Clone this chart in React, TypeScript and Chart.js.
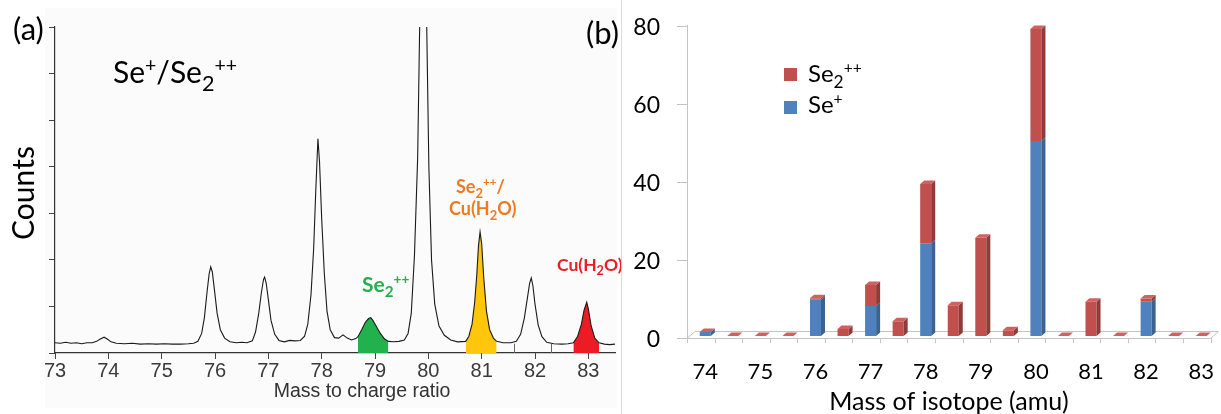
import React, { useEffect, useRef } from "react";
import { Chart, registerables } from "chart.js";
Chart.register(...registerables);

// ---------- Panel (a): mass spectrum ----------
const massToCharge = [
  73.0, 73.1, 73.2, 73.3, 73.4, 73.5, 73.6, 73.7, 73.78, 73.85, 73.92, 73.98, 74.05, 74.15, 74.3, 74.45, 74.6, 74.75, 74.9,
  75.05, 75.2, 75.35, 75.5, 75.6, 75.68, 75.75, 75.8, 75.85, 75.89, 75.92, 75.95, 75.99, 76.04, 76.1, 76.18, 76.28, 76.4,
  76.5, 76.6, 76.7, 76.76, 76.82, 76.87, 76.91, 76.93, 76.96, 77.0, 77.05, 77.12, 77.2, 77.3, 77.4, 77.5, 77.6, 77.68,
  77.74, 77.8, 77.85, 77.89, 77.93, 77.96, 78.0, 78.05, 78.1, 78.16, 78.24, 78.32, 78.4, 78.48, 78.56, 78.64, 78.68, 78.75,
  78.82, 78.88, 78.92, 78.96, 79.02, 79.1, 79.18, 79.25, 79.35, 79.45, 79.55, 79.62, 79.68, 79.74, 79.8, 79.84, 79.9,
  79.95, 79.97, 80.01, 80.06, 80.12, 80.2, 80.3, 80.42, 80.55, 80.7, 80.76, 80.82, 80.87, 80.91, 80.94, 80.97, 81.0,
  81.04, 81.09, 81.15, 81.22, 81.28, 81.4, 81.55, 81.65, 81.73, 81.8, 81.86, 81.9, 81.93, 81.96, 82.0, 82.06, 82.13,
  82.22, 82.35, 82.5, 82.62, 82.72, 82.8, 82.87, 82.92, 82.97, 83.0, 83.05, 83.12, 83.2, 83.3, 83.4, 83.5,
];
const counts = [
  0.22, 0.21, 0.23, 0.21, 0.22, 0.2, 0.22, 0.22, 0.25, 0.3, 0.34, 0.3, 0.24, 0.21, 0.2, 0.21, 0.19, 0.2, 0.19,
  0.2, 0.19, 0.19, 0.2, 0.21, 0.25, 0.42, 0.75, 1.3, 1.7, 1.85, 1.74, 1.35, 0.85, 0.5, 0.32, 0.24, 0.22,
  0.23, 0.22, 0.26, 0.45, 0.85, 1.3, 1.58, 1.63, 1.5, 1.15, 0.7, 0.4, 0.27, 0.24, 0.27, 0.26, 0.27, 0.36,
  0.62, 1.25, 2.25, 3.5, 4.6, 4.1, 2.9, 1.7, 0.9, 0.5, 0.33, 0.32, 0.39, 0.32, 0.28, 0.31, 0.35, 0.5,
  0.66, 0.74, 0.76, 0.7, 0.58, 0.42, 0.3, 0.25, 0.24, 0.25, 0.28, 0.42, 0.85, 2.1, 4.2, 7.2, 10.0,
  8.5, 7.0, 4.0, 2.0, 1.05, 0.58, 0.38, 0.28, 0.24, 0.25, 0.36, 0.62, 1.1, 1.7, 2.3, 2.6, 2.35,
  1.6, 0.9, 0.5, 0.32, 0.25, 0.22, 0.22, 0.25, 0.4, 0.75, 1.2, 1.5, 1.61, 1.45, 1.05, 0.6, 0.35,
  0.23, 0.2, 0.19, 0.2, 0.22, 0.36, 0.62, 0.92, 1.09, 0.95, 0.6, 0.32, 0.22, 0.19, 0.18, 0.19,
];
const massTicks = [73, 74, 75, 76, 77, 78, 79, 80, 81, 82, 83];
const greenRange = [78.68, 79.25];
const yellowRange = [80.7, 81.28];
const redRange = [82.72, 83.2];
const markerMasses = [81.6, 82.3];

// ---------- Panel (b): isotope bars ----------
const isotopeLabels = ["74", "", "75", "", "76", "", "77", "", "78", "", "79", "", "80", "", "81", "", "82", "", "83"];
const seIon = [1, 0, 0, 0, 9.3, 0, 7.7, 0, 23.8, 0, 0, 0, 50, 0, 0, 0, 8.8, 0, 0];
const se2Ion = [0, 0, 0, 0, 0.4, 1.8, 5.4, 3.8, 15.2, 7.9, 25.2, 1.5, 28.7, 0, 8.8, 0, 0.8, 0, 0];
const countTicks = [0, 20, 40, 60, 80];

type Run = { t: string; k?: "sup" | "sub" };

function drawRich(
  ctx: CanvasRenderingContext2D,
  runs: Run[],
  x: number,
  y: number,
  size: number,
  color: string,
  weight = "normal",
  family = "Lato",
  align: "left" | "center" = "left"
) {
  const fontFor = (k?: string) => `${weight} ${k === "sup" ? size * 0.65 : k === "sub" ? size * 0.72 : size}px ${family}`;
  let w = 0;
  for (const r of runs) {
    ctx.font = fontFor(r.k);
    w += ctx.measureText(r.t).width;
  }
  let cx = align === "center" ? x - w / 2 : x;
  ctx.fillStyle = color;
  ctx.textBaseline = "alphabetic";
  ctx.textAlign = "left";
  for (const r of runs) {
    ctx.font = fontFor(r.k);
    const dy = r.k === "sup" ? -size * 0.38 : r.k === "sub" ? size * 0.25 : 0;
    ctx.fillText(r.t, cx, y + dy);
    cx += ctx.measureText(r.t).width;
  }
}

const se2Runs: Run[] = [{ t: "Se" }, { t: "2", k: "sub" }, { t: "++", k: "sup" }];
const cuRuns: Run[] = [{ t: "Cu(H" }, { t: "2", k: "sub" }, { t: "O)" }];

const spectrumTextPlugin = {
  id: "spectrumText",
  beforeDraw(chart: any) {
    const ctx = chart.ctx as CanvasRenderingContext2D;
    ctx.save();
    ctx.fillStyle = "#fbfbfb";
    ctx.fillRect(45, 8, 572, 400);
    ctx.restore();
  },
  afterDatasetsDraw(chart: any) {
    const ctx = chart.ctx as CanvasRenderingContext2D;
    const { x, y } = chart.scales;
    ctx.save();
    ctx.strokeStyle = "#666";
    ctx.lineWidth = 1;
    for (const m of markerMasses) {
      const px = Math.round(x.getPixelForValue(m)) + 0.5;
      ctx.beginPath();
      ctx.moveTo(px, y.getPixelForValue(0));
      ctx.lineTo(px, y.getPixelForValue(0.2));
      ctx.stroke();
    }
    ctx.restore();
  },
  afterDraw(chart: any) {
    const ctx = chart.ctx as CanvasRenderingContext2D;
    ctx.save();
    // panel letters
    drawRich(ctx, [{ t: "(a)" }], 13, 40, 31, "#000");
    drawRich(ctx, [{ t: "(b)" }], 586, 44, 31, "#000");
    // title
    drawRich(ctx, [{ t: "Se" }, { t: "+", k: "sup" }, { t: "/Se" }, { t: "2", k: "sub" }, { t: "++", k: "sup" }], 113, 83, 30, "#000");
    // peak labels
    drawRich(ctx, se2Runs, 362, 292, 21, "#22b14c", "bold");
    drawRich(ctx, [...se2Runs, { t: "/" }], 456, 193, 18, "#ee7b22", "bold");
    drawRich(ctx, cuRuns, 449, 215, 18, "#ee7b22", "bold");
    drawRich(ctx, cuRuns, 557, 271, 17.5, "#ee1c24", "bold");
    // axis title
    ctx.font = "19.5px 'Liberation Sans'";
    ctx.fillStyle = "#333";
    ctx.textAlign = "center";
    ctx.textBaseline = "alphabetic";
    ctx.fillText("Mass to charge ratio", 362, 397);
    // Counts
    ctx.translate(24, 193);
    ctx.rotate(-Math.PI / 2);
    ctx.font = "30px Lato";
    ctx.fillStyle = "#000";
    ctx.textAlign = "center";
    ctx.textBaseline = "middle";
    ctx.fillText("Counts", 0, 0);
    ctx.restore();
  },
};

const DX = 4;
const DY = 3.5;

const bar3dPlugin = {
  id: "bar3d",
  beforeDatasetsDraw(chart: any) {
    const ctx = chart.ctx as CanvasRenderingContext2D;
    const { x, y } = chart.scales;
    const a = chart.chartArea;
    const n = isotopeLabels.length;
    const cw = (a.right - a.left) / n;
    const fl = a.left - 4.5;
    const fr = a.right - 4.5;
    const fy = y.getPixelForValue(0) + 2;
    ctx.save();
    ctx.strokeStyle = "#c4c4c4";
    ctx.lineWidth = 1;
    // y axis line
    ctx.beginPath();
    ctx.moveTo(Math.round(fl) + 0.5, y.getPixelForValue(80) + 1);
    ctx.lineTo(Math.round(fl) + 0.5, fy);
    ctx.stroke();
    // y ticks
    for (const v of countTicks) {
      const py = Math.round(y.getPixelForValue(v) + 2) + 0.5;
      ctx.beginPath();
      ctx.moveTo(fl - 10, py);
      ctx.lineTo(fl, py);
      ctx.stroke();
    }
    // floor
    ctx.beginPath();
    ctx.moveTo(fl, fy + 0.5);
    ctx.lineTo(fr, fy + 0.5);
    ctx.lineTo(fr + 8, fy - 6.5);
    ctx.lineTo(fl + 8, fy - 6.5);
    ctx.closePath();
    ctx.stroke();
    // category boundary ticks
    for (let k = 0; k <= n; k++) {
      const px = Math.round(x.getPixelForValue(0) - cw / 2 - 4.5 + k * cw) + 0.5;
      ctx.beginPath();
      ctx.moveTo(px, fy);
      ctx.lineTo(px, fy + 5);
      ctx.stroke();
    }
    ctx.restore();
  },
  afterDatasetsDraw(chart: any) {
    const ctx = chart.ctx as CanvasRenderingContext2D;
    const blue = chart.getDatasetMeta(0).data;
    const red = chart.getDatasetMeta(1).data;
    ctx.save();
    const side = (el: any, color: string) => {
      const h = el.base - el.y;
      if (h < 0.5) return;
      const r = el.x + el.width / 2;
      ctx.fillStyle = color;
      ctx.beginPath();
      ctx.moveTo(r, el.y);
      ctx.lineTo(r + DX, el.y - DY);
      ctx.lineTo(r + DX, el.base - DY);
      ctx.lineTo(r, el.base);
      ctx.closePath();
      ctx.fill();
    };
    for (let i = 0; i < blue.length; i++) {
      side(blue[i], "#3a6391");
      side(red[i], "#8e3b39");
      const t = red[i];
      const l = t.x - t.width / 2;
      const r = t.x + t.width / 2;
      ctx.fillStyle = "#cd625f";
      ctx.beginPath();
      ctx.moveTo(l, t.y);
      ctx.lineTo(l + DX, t.y - DY);
      ctx.lineTo(r + DX, t.y - DY);
      ctx.lineTo(r, t.y);
      ctx.closePath();
      ctx.fill();
    }
    // legend
    ctx.fillStyle = "#c0504d";
    ctx.fillRect(163, 68, 13, 13);
    ctx.fillStyle = "#4f81bd";
    ctx.fillRect(163, 101, 13, 13);
    drawRich(ctx, se2Runs, 187, 82, 24, "#000");
    drawRich(ctx, [{ t: "Se" }, { t: "+", k: "sup" }], 187, 113, 24, "#000");
    // axis title
    ctx.font = "25px Lato";
    ctx.fillStyle = "#000";
    ctx.textAlign = "center";
    ctx.textBaseline = "alphabetic";
    ctx.fillText("Mass of isotope (amu)", 328, 410);
    ctx.restore();
  },
};

export default function App() {
  const leftRef = useRef<HTMLCanvasElement>(null);
  const rightRef = useRef<HTMLCanvasElement>(null);

  useEffect(() => {
    const pts = massToCharge.map((m, i) => ({ x: m, y: counts[i] }));
    const inRange = (r: number[]) => pts.filter((p) => p.x >= r[0] - 1e-9 && p.x <= r[1] + 1e-9);
    const fillSet = (r: number[], color: string) => ({
      data: inRange(r),
      borderWidth: 0,
      borderColor: color,
      backgroundColor: color,
      pointRadius: 0,
      fill: "origin",
    });

    const left = new Chart(leftRef.current!, {
      type: "line",
      data: {
        datasets: [
          { data: pts, borderColor: "#1a1a1a", borderWidth: 1.1, pointRadius: 0, fill: false, tension: 0 },
          fillSet(greenRange, "#22b14c"),
          fillSet(yellowRange, "#ffc60b"),
          fillSet(redRange, "#ed1c24"),
        ] as any,
      },
      options: {
        animation: false,
        responsive: false,
        events: [],
        layout: { padding: { left: 0, right: 6, top: 27, bottom: 0 } },
        plugins: { legend: { display: false }, tooltip: { enabled: false } },
        scales: {
          x: {
            type: "linear",
            min: 73,
            max: 83.5,
            afterBuildTicks: (s: any) => {
              s.ticks = massTicks.map((v) => ({ value: v }));
            },
            afterFit: (s: any) => {
              s.height = 61;
            },
            grid: { drawOnChartArea: false, drawTicks: true, tickLength: 6, color: "#444" },
            border: { color: "#333", width: 1.2 },
            ticks: {
              font: { family: "Liberation Sans", size: 20 },
              color: "#3a3a3a",
              padding: 0,
              maxRotation: 0,
              autoSkip: false,
            },
          },
          y: {
            min: 0,
            max: 7,
            ticks: { display: false, stepSize: 1 },
            afterFit: (s: any) => {
              s.width = 55;
            },
            grid: { drawOnChartArea: false, drawTicks: true, tickLength: 6, color: "#444" },
            border: { color: "#333", width: 1.2 },
          },
        },
      } as any,
      plugins: [spectrumTextPlugin],
    });

    const right = new Chart(rightRef.current!, {
      type: "bar",
      data: {
        labels: isotopeLabels,
        datasets: [
          { label: "Se+", data: seIon, backgroundColor: "#4f81bd", stack: "s" },
          { label: "Se2++", data: se2Ion, backgroundColor: "#c0504d", stack: "s" },
        ],
      },
      options: {
        animation: false,
        responsive: false,
        events: [],
        datasets: { bar: { barPercentage: 0.4, categoryPercentage: 1 } },
        layout: { padding: { left: 0, right: 6, top: 24, bottom: 0 } },
        plugins: { legend: { display: false }, tooltip: { enabled: false } },
        scales: {
          x: {
            stacked: true,
            grid: { display: false, drawTicks: true, tickLength: 23 },
            border: { display: false },
            ticks: {
              autoSkip: false,
              maxRotation: 0,
              font: { family: "Lato", size: 22 },
              color: "#000",
              padding: 0,
            },
            afterFit: (s: any) => {
              s.height = 414 - 336;
            },
          },
          y: {
            stacked: true,
            min: 0,
            max: 80,
            afterBuildTicks: (s: any) => {
              s.ticks = countTicks.map((v) => ({ value: v }));
            },
            ticks: { font: { family: "Lato", size: 23 }, color: "#000", padding: 0, labelOffset: 4 },
            grid: { display: false, drawTicks: true, tickLength: 31.5 },
            border: { display: false },
            afterFit: (s: any) => {
              s.width = 70.5;
            },
          },
        },
      } as any,
      plugins: [bar3dPlugin],
    });

    return () => {
      left.destroy();
      right.destroy();
    };
  }, []);

  return (
    <div style={{ position: "fixed", left: 0, top: 0, width: 1221, height: 414, background: "#fff", overflow: "hidden" }}>
      <canvas ref={leftRef} width={621} height={414} style={{ position: "absolute", left: 0, top: 0, width: 621, height: 414 }} />
      <canvas ref={rightRef} width={600} height={414} style={{ position: "absolute", left: 621, top: 0, width: 600, height: 414 }} />
      <div style={{ position: "absolute", left: 621, top: 0, width: 1, height: 414, background: "#dcdcdc" }} />
    </div>
  );
}
